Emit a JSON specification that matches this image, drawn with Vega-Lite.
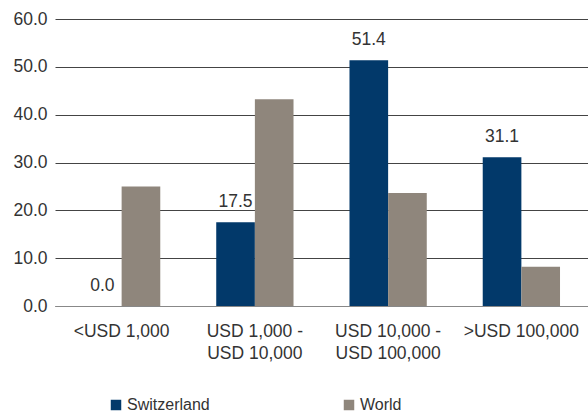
{
  "$schema": "https://vega.github.io/schema/vega-lite/v6.json",
  "autosize": "none",
  "width": 533,
  "height": 287,
  "padding": {"left": 55, "top": 19, "right": 0, "bottom": 108},
  "background": "white",
  "data": {
    "values": [
      {"cat": "<USD 1,000", "series": "Switzerland", "value": 0.0},
      {"cat": "<USD 1,000", "series": "World", "value": 25.0},
      {"cat": "USD 1,000 - USD 10,000", "series": "Switzerland", "value": 17.5},
      {"cat": "USD 1,000 - USD 10,000", "series": "World", "value": 43.2},
      {"cat": "USD 10,000 - USD 100,000", "series": "Switzerland", "value": 51.4},
      {"cat": "USD 10,000 - USD 100,000", "series": "World", "value": 23.6},
      {"cat": ">USD 100,000", "series": "Switzerland", "value": 31.1},
      {"cat": ">USD 100,000", "series": "World", "value": 8.2}
    ]
  },
  "config": {
    "font": "Liberation Sans",
    "view": {"stroke": null},
    "axis": {"labelFont": "Liberation Sans", "labelFontSize": 17.5, "labelColor": "#333333", "title": null}
  },
  "encoding": {
    "x": {
      "field": "cat", "type": "nominal",
      "sort": ["<USD 1,000", "USD 1,000 - USD 10,000", "USD 10,000 - USD 100,000", ">USD 100,000"],
      "scale": {"paddingInner": 0.42, "paddingOuter": 0.21},
      "axis": {
        "labelAngle": 0, "ticks": false, "domain": true, "domainColor": "#888888",
        "labelPadding": 16, "labelLineHeight": 22, "labelBaseline": "top",
        "labelExpr": "split(replace(datum.label, ' - ', ' -|'), '|')"
      }
    },
    "xOffset": {"field": "series", "type": "nominal", "sort": ["Switzerland", "World"], "scale": {"paddingInner": 0, "paddingOuter": 0}},
    "y": {
      "field": "value", "type": "quantitative",
      "scale": {"domain": [0, 60], "nice": false},
      "axis": {
        "values": [0, 10, 20, 30, 40, 50, 60], "format": ".1f",
        "domain": false, "ticks": false, "grid": true, "gridColor": "#444444", "gridOpacity": 1,
        "labelPadding": 8
      }
    }
  },
  "layer": [
    {
      "mark": {"type": "bar"},
      "encoding": {
        "color": {
          "field": "series", "type": "nominal",
          "scale": {"domain": ["Switzerland", "World"], "range": ["#02396a", "#8f867c"]},
          "legend": {
            "title": null, "orient": "none", "direction": "horizontal",
            "legendX": 53, "legendY": 378, "padding": 0,
            "symbolType": "square", "symbolSize": 110, "symbolStrokeWidth": 0,
            "labelFontSize": 16, "labelFont": "Liberation Sans", "labelColor": "#333333",
            "labelOffset": 3, "columnPadding": 131
          }
        }
      }
    },
    {
      "transform": [{"filter": "datum.series == 'Switzerland'"}],
      "mark": {"type": "text", "baseline": "alphabetic", "dy": -15, "fontSize": 17.5, "color": "#333333", "font": "Liberation Sans"},
      "encoding": {
        "text": {"field": "value", "type": "quantitative", "format": ".1f"}
      }
    }
  ]
}
